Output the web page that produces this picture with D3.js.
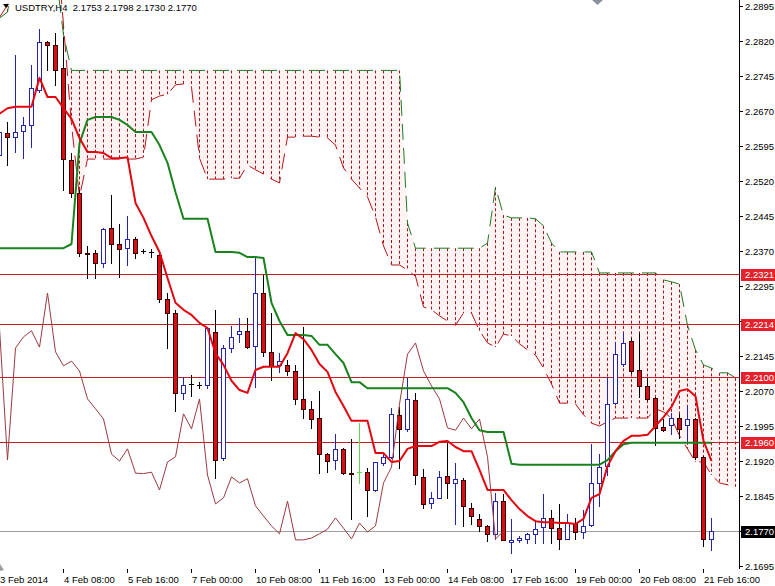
<!DOCTYPE html>
<html><head><meta charset="utf-8">
<script src="https://cdn.jsdelivr.net/npm/d3@7"></script>
<style>
html,body{margin:0;padding:0;background:#fff;}
svg{display:block;}
text{font-family:"Liberation Sans",Arial,sans-serif;font-size:9.5px;}
</style></head><body>
<svg id="chart" width="775" height="586"></svg>
<script>
// ---------- DATA (USDTRY, H4) ----------
const title = "USDTRY,H4  2.1753 2.1798 2.1730 2.1770";
const open = [2.2576,2.2623,2.2614,2.2627,2.2640,2.2715,2.2818,2.2811,2.2762,2.2565,
2.2494,2.2366,2.2366,2.2344,2.2419,2.2385,2.2376,2.2396,2.2370,2.2368,
2.2361,2.2267,2.2237,2.2066,2.2085,2.2083,2.2083,2.2196,2.1926,2.2162,
2.2192,2.2199,2.2166,2.2280,2.2154,2.2126,2.2126,2.2113,2.2053,2.2032,
2.2012,2.1935,2.1922,2.1946,2.1894,2.1896,2.1896,2.1858,2.1916,2.1929,
2.2019,2.1989,2.2051,2.1886,2.1830,2.1841,2.1888,2.1873,2.1879,2.1819,
2.1796,2.1781,2.1764,2.1834,2.1746,2.1751,2.1753,2.1764,2.1779,2.1798,
2.1776,2.1753,2.1787,2.1768,2.1783,2.1873,2.1909,2.2044,2.2128,2.2177,
2.2115,2.2081,2.2055,2.1993,2.1997,2.2012,2.1997,2.2010,2.1929,2.1753];
const high = [2.2651,2.2646,2.2790,2.2657,2.2769,2.2846,2.2820,2.2837,2.2829,2.2580,
2.2501,2.2381,2.2372,2.2419,2.2490,2.2428,2.2445,2.2400,2.2374,2.2374,
2.2368,2.2280,2.2244,2.2100,2.2104,2.2089,2.2207,2.2244,2.2169,2.2209,
2.2226,2.2226,2.2357,2.2319,2.2237,2.2151,2.2136,2.2126,2.2207,2.2049,
2.2070,2.1937,2.1978,2.1948,2.1967,2.2001,2.1905,2.1918,2.1937,2.2034,
2.2036,2.2098,2.2066,2.1903,2.1854,2.1899,2.1959,2.1916,2.1884,2.1830,
2.1806,2.1782,2.1851,2.1849,2.1796,2.1759,2.1766,2.1791,2.1849,2.1815,
2.1828,2.1806,2.1798,2.1815,2.1956,2.1935,2.2100,2.2175,2.2194,2.2184,
2.2194,2.2098,2.2057,2.2010,2.2023,2.2021,2.2038,2.2012,2.1931,2.1798];
const low = [2.2554,2.2554,2.2582,2.2569,2.2593,2.2711,2.2758,2.2726,2.2501,2.2486,
2.2359,2.2312,2.2312,2.2336,2.2344,2.2314,2.2340,2.2355,2.2366,2.2357,
2.2261,2.2162,2.2027,2.2053,2.2059,2.2076,2.2076,2.1884,2.1922,2.2154,
2.2175,2.2162,2.2079,2.2145,2.2094,2.2111,2.2104,2.2042,2.2012,2.1991,
2.1894,2.1897,2.1903,2.1892,2.1796,2.1873,2.1802,2.1856,2.1912,2.1926,
2.1905,2.1984,2.1871,2.1819,2.1819,2.1841,2.1841,2.1785,2.1781,2.1785,
2.1770,2.1749,2.1753,2.1751,2.1723,2.1746,2.1744,2.1744,2.1744,2.1744,
2.1731,2.1753,2.1753,2.1755,2.1781,2.1824,2.1890,2.2042,2.2124,2.2109,
2.2057,2.2051,2.1954,2.1984,2.1978,2.1969,2.1963,2.1924,2.1738,2.1730];
const close = [2.2625,2.2614,2.2625,2.2640,2.2719,2.2818,2.2811,2.2758,2.2567,2.2494,
2.2366,2.2364,2.2344,2.2417,2.2385,2.2374,2.2396,2.2366,2.2369,2.2367,
2.2267,2.2237,2.2066,2.2083,2.2084,2.2082,2.2205,2.1922,2.2162,2.2186,
2.2199,2.2164,2.2280,2.2154,2.2124,2.2134,2.2113,2.2053,2.2032,2.2010,
2.1935,2.1920,2.1946,2.1894,2.1893,2.1896,2.1858,2.1918,2.1929,2.2021,
2.1989,2.2053,2.1890,2.1828,2.1841,2.1886,2.1873,2.1882,2.1824,2.1802,
2.1781,2.1764,2.1834,2.1751,2.1751,2.1755,2.1764,2.1774,2.1798,2.1776,
2.1753,2.1787,2.1768,2.1781,2.1873,2.1907,2.2042,2.2149,2.2173,2.2113,
2.2081,2.2053,2.1991,2.1986,2.2012,2.1989,2.2010,2.1929,2.1753,2.1770];
const tenkan = [2.2664,2.2676,2.2679,2.2679,2.2679,2.2741,2.2700,2.2700,2.2676,2.2653,
2.2612,2.2582,2.2582,2.2580,2.2569,2.2569,2.2571,2.2473,2.2441,2.2402,
2.2368,2.2312,2.2259,2.2244,2.2233,2.2216,2.2205,2.2151,2.2126,2.2092,
2.2072,2.2066,2.2115,2.2122,2.2122,2.2122,2.2151,2.2194,2.2181,2.2158,
2.2128,2.2111,2.2068,2.2038,2.2006,2.2006,2.2006,2.1937,2.1937,2.1918,
2.1920,2.1946,2.1952,2.1952,2.1952,2.1961,2.1963,2.1950,2.1941,2.1941,
2.1901,2.1858,2.1858,2.1858,2.1836,2.1817,2.1802,2.1791,2.1789,2.1789,
2.1787,2.1787,2.1785,2.1796,2.1841,2.1849,2.1909,2.1941,2.1963,2.1974,
2.1974,2.1976,2.1995,2.2014,2.2036,2.2070,2.2074,2.2059,2.1963,2.1920];
const kijun = [2.2376,2.2376,2.2376,2.2376,2.2376,2.2376,2.2376,2.2376,2.2376,2.2385,
2.2601,2.2651,2.2657,2.2657,2.2657,2.2651,2.2640,2.2625,2.2625,2.2625,
2.2597,2.2559,2.2496,2.2439,2.2439,2.2439,2.2439,2.2368,2.2368,2.2368,
2.2366,2.2357,2.2357,2.2355,2.2259,2.2220,2.2190,2.2190,2.2190,2.2188,
2.2169,2.2169,2.2149,2.2130,2.2089,2.2089,2.2076,2.2076,2.2076,2.2076,
2.2076,2.2076,2.2076,2.2076,2.2076,2.2076,2.2076,2.2066,2.2046,2.2012,
2.1986,2.1982,2.1982,2.1982,2.1914,2.1912,2.1912,2.1912,2.1912,2.1912,
2.1912,2.1912,2.1912,2.1912,2.1912,2.1912,2.1922,2.1941,2.1956,2.1959,
2.1959,2.1959,2.1959,2.1959,2.1959,2.1959,2.1959,2.1959,2.1959,2.1959];
const senkouA = [2.2871,2.2897,2.2994,2.2994,2.2994,2.2994,2.2994,2.3069,2.2854,2.2640,
2.2486,2.2567,2.2567,2.2567,2.2567,2.2567,2.2567,2.2567,2.2571,2.2694,
2.2702,2.2706,2.2726,2.2728,2.2721,2.2569,2.2524,2.2524,2.2524,2.2526,
2.2526,2.2554,2.2544,2.2535,2.2524,2.2516,2.2614,2.2614,2.2616,2.2616,
2.2614,2.2612,2.2597,2.2548,2.2524,2.2505,2.2486,2.2443,2.2381,2.2340,
2.2340,2.2329,2.2316,2.2250,2.2244,2.2231,2.2220,2.2211,2.2237,2.2237,
2.2199,2.2173,2.2164,2.2192,2.2188,2.2171,2.2158,2.2147,2.2119,2.2085,
2.2044,2.2044,2.2042,2.2019,2.2001,2.1995,2.2004,2.2012,2.2012,2.2012,
2.2012,2.2012,2.2032,2.2025,2.2012,2.1974,2.1946,2.1918,2.1918,2.1890,
2.1873,2.1869,2.1860];
const senkouB = [2.2869,2.2882,2.2972,2.2972,2.2972,2.2972,2.2972,2.2972,2.2833,2.2757,
2.2757,2.2757,2.2757,2.2757,2.2757,2.2757,2.2757,2.2757,2.2757,2.2757,
2.2757,2.2757,2.2757,2.2757,2.2757,2.2757,2.2757,2.2757,2.2757,2.2757,
2.2757,2.2757,2.2757,2.2757,2.2757,2.2757,2.2757,2.2757,2.2757,2.2757,
2.2757,2.2757,2.2757,2.2757,2.2757,2.2757,2.2757,2.2757,2.2757,2.2757,
2.2757,2.2430,2.2376,2.2376,2.2376,2.2376,2.2376,2.2376,2.2376,2.2376,
2.2376,2.2387,2.2507,2.2447,2.2441,2.2441,2.2441,2.2439,2.2424,2.2387,
2.2368,2.2368,2.2368,2.2368,2.2368,2.2323,2.2323,2.2323,2.2323,2.2323,
2.2323,2.2323,2.2323,2.2308,2.2304,2.2299,2.2211,2.2158,2.2126,2.2119,
2.2109,2.2109,2.2098];
const chikouShift = 26;
const timeLabels = ["3 Feb 2014","4 Feb 08:00","5 Feb 16:00","7 Feb 00:00","10 Feb 08:00","11 Feb 16:00",
"13 Feb 00:00","14 Feb 08:00","17 Feb 16:00","19 Feb 00:00","20 Feb 08:00","21 Feb 16:00"];
const timeLabelStep = 8;
const priceTicks = [2.2895,2.2820,2.2745,2.2670,2.2595,2.2520,2.2445,2.2370,2.2295,2.2220,
2.2145,2.2070,2.1995,2.1920,2.1845,2.1770,2.1695];
const levels = [2.2321,2.2214,2.2100,2.1960];
const lastPrice = 2.1770;

// ---------- DRAW ----------
const plotR = 739, plotB = 569;
const y = d3.scaleLinear().domain([2.1695, 2.2895]).range([566, 6]);
const x = d3.scaleLinear().domain([0, 1]).range([-1, 7]);
const cx = i => x(i) + 0.5;
const py = v => Math.round(y(v)) + 0.5;

const svg = d3.select('#chart');
svg.append('rect').attr('width',775).attr('height',586).attr('fill','#fff');
svg.append('defs').append('clipPath').attr('id','plot')
  .append('rect').attr('x',0).attr('y',0).attr('width',plotR).attr('height',plotB);
const g = svg.append('g').attr('clip-path','url(#plot)');

const cloudIdx = d3.range(senkouA.length);
g.append('path').datum(cloudIdx)
  .attr('d', d3.area().x(cx).y0(i=>y(senkouA[i])).y1(i=>y(senkouB[i])))
  .attr('fill','#fff3f3');
g.append('g').selectAll('line').data(cloudIdx).join('line')
  .attr('x1',cx).attr('x2',cx)
  .attr('y1',i=>y(senkouB[i])).attr('y2',i=>y(senkouA[i]))
  .attr('stroke','#a3191c').attr('stroke-width',1).attr('stroke-dasharray','3,2.3');

const line = arr => d3.line().x(cx).y(i=>y(arr[i]));
g.append('path').datum(cloudIdx).attr('d', line(senkouA))
  .attr('fill','none').attr('stroke','#b3161b').attr('stroke-width',1).attr('stroke-dasharray','16,8');
g.append('path').datum(cloudIdx).attr('d', line(senkouB))
  .attr('fill','none').attr('stroke','#1f7a22').attr('stroke-width',1).attr('stroke-dasharray','16,8');

g.selectAll('.lvl').data(levels).join('line').attr('class','lvl')
  .attr('x1',0).attr('x2',plotR).attr('y1',py).attr('y2',py)
  .attr('stroke','#c81e25').attr('stroke-width',1);
g.append('line').attr('x1',0).attr('x2',plotR).attr('y1',py(lastPrice)).attr('y2',py(lastPrice))
  .attr('stroke','#a0a0a0').attr('stroke-width',1);

const idx = d3.range(close.length);
const cg = g.append('g');
idx.forEach(i => {
  const o = open[i], c = close[i];
  const bull = c > o, flat = c === o;
  const col = flat ? '#5fd84f' : (bull ? '#2424b8' : '#000');
  cg.append('line').attr('x1',cx(i)).attr('x2',cx(i))
    .attr('y1',Math.round(y(high[i]))).attr('y2',Math.round(y(low[i]))+1)
    .attr('stroke',col).attr('stroke-width',1);
  const top = py(Math.max(o,c)), bot = py(Math.min(o,c));
  if (flat || bot - top < 1) {
    cg.append('line').attr('x1',cx(i)-2.5).attr('x2',cx(i)+2.5).attr('y1',top).attr('y2',top)
      .attr('stroke',col).attr('stroke-width',1);
  } else {
    cg.append('rect').attr('x',cx(i)-2).attr('y',top).attr('width',4).attr('height',bot-top)
      .attr('fill', bull ? '#ffffff' : '#d50f14')
      .attr('stroke', bull ? '#2424b8' : '#3a0000').attr('stroke-width',1);
  }
});

const chIdx = d3.range(chikouShift, close.length);
g.append('path').datum(chIdx)
  .attr('d', d3.line().x(i=>cx(i-chikouShift)).y(i=>y(close[i])))
  .attr('fill','none').attr('stroke','#9a3a40').attr('stroke-width',1);

g.append('path').datum(idx).attr('d', line(kijun))
  .attr('fill','none').attr('stroke','#18821c').attr('stroke-width',2).attr('stroke-linejoin','round');
g.append('path').datum(idx).attr('d', line(tenkan))
  .attr('fill','none').attr('stroke','#e3060f').attr('stroke-width',2).attr('stroke-linejoin','round');

// ---------- AXES ----------
svg.append('line').attr('x1',plotR+0.5).attr('x2',plotR+0.5).attr('y1',0).attr('y2',plotB)
  .attr('stroke','#000').attr('stroke-width',1);
const boxed = levels.concat([lastPrice]);
const ay = svg.append('g');
priceTicks.forEach(v => {
  ay.append('line').attr('x1',plotR).attr('x2',plotR+4).attr('y1',py(v)).attr('y2',py(v)).attr('stroke','#000');
  const hidden = boxed.some(b => Math.abs(y(b) - y(v)) < 11);
  if (!hidden) ay.append('text').attr('x',745).attr('y',y(v)+3.5).attr('fill','#000').text(v.toFixed(4));
});
levels.forEach(v => {
  ay.append('rect').attr('x',741).attr('y',Math.round(y(v))-5).attr('width',34).attr('height',12).attr('fill','#e5222b');
  ay.append('text').attr('x',745).attr('y',y(v)+4).attr('fill','#fff').text(v.toFixed(4));
});
ay.append('rect').attr('x',741).attr('y',Math.round(y(lastPrice))-5).attr('width',34).attr('height',12).attr('fill','#000');
ay.append('text').attr('x',745).attr('y',y(lastPrice)+4).attr('fill','#fff').text(lastPrice.toFixed(4));

const ax = svg.append('g');
timeLabels.forEach((t,k) => {
  const xi = cx(k*timeLabelStep);
  ax.append('line').attr('x1',xi).attr('x2',xi).attr('y1',plotB).attr('y2',plotB+4).attr('stroke','#000');
  ax.append('text').attr('x',xi+0.5).attr('y',583).attr('fill','#000').text(t);
});

svg.append('path').attr('d','M3,4 L9,4 L6,8 Z').attr('fill','#000');
svg.append('text').attr('x',15).attr('y',11).attr('fill','#000').style('white-space','pre').text(title);
svg.append('path').attr('d','M592,0 L603,0 L597.5,5 Z').attr('fill','#8a939d');
svg.append('path').attr('d','M0,564 L0,571 L4,570 Z').attr('fill','#9aa0a6');
</script>
</body></html>
